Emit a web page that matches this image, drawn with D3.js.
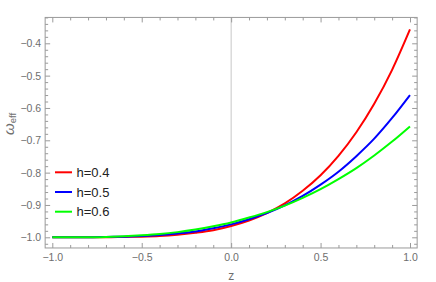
<!DOCTYPE html>
<html>
<head>
<meta charset="utf-8">
<script src="https://cdn.jsdelivr.net/npm/d3@7"></script>
<style>
  body { margin: 0; background: #fff; }
  svg { display: block; font-family: "Liberation Sans", Arial, sans-serif; }
  .axis path { display: none; }
  .axis line { stroke: #9a9a9a; stroke-width: 1; }
  .axis text { fill: #6e6e6e; font-size: 10.5px; }
</style>
</head>
<body>
<svg id="chart" width="436" height="282"></svg>
<script>
// data
const zValues = [-1.0, -0.9, -0.8, -0.7, -0.6, -0.5, -0.4, -0.3, -0.2, -0.1,
  0.0, 0.1, 0.2, 0.3, 0.4, 0.5, 0.6, 0.7, 0.8, 0.9, 1.0];
const wRed = [-1.000, -1.000, -1.000, -1.000, -0.999, -0.998, -0.996, -0.992, -0.986, -0.978,
  -0.965, -0.948, -0.925, -0.895, -0.856, -0.808, -0.748, -0.675, -0.587, -0.482, -0.357];
const wBlue = [-1.000, -1.000, -1.000, -0.999, -0.998, -0.996, -0.993, -0.988, -0.982, -0.972,
  -0.960, -0.944, -0.925, -0.901, -0.872, -0.837, -0.797, -0.749, -0.695, -0.631, -0.560];
const wGreen = [-1.000, -1.000, -1.000, -0.999, -0.997, -0.994, -0.990, -0.984, -0.976, -0.966,
  -0.954, -0.939, -0.922, -0.902, -0.878, -0.851, -0.820, -0.786, -0.747, -0.704, -0.657];
const seriesNames = ['h=0.4', 'h=0.5', 'h=0.6'];
const seriesColors = ['#ff0000', '#0000ff', '#00ff00'];
const xMajor = [-1.0, -0.5, 0.0, 0.5, 1.0];
const yMajor = [-1.0, -0.9, -0.8, -0.7, -0.6, -0.5, -0.4];

const series = [wRed, wBlue, wGreen].map((vals, i) => ({
  name: seriesNames[i],
  color: seriesColors[i],
  points: zValues.map((z, j) => ({ z, w: vals[j] }))
}));

const svg = d3.select('#chart');

const x = d3.scaleLinear().domain([-1, 1]).range([52.3, 410]);
const y = d3.scaleLinear().domain([-1, -0.4]).range([237.3, 43.3]);

const frameLeft = x(-1.04), frameRight = x(1.04);
const frameTop = y(-0.32), frameBottom = y(-1.033);

// minor tick values (majors removed)
const xMinor = d3.range(-10, 11).map((d) => d / 10).filter((d) => !xMajor.some((m) => Math.abs(m - d) < 1e-9));
const yMinor = d3.range(-51, -15).map((d) => d / 50).filter((d) => !yMajor.some((m) => Math.abs(m - d) < 1e-9));

// zero axis line
svg.append('line')
  .attr('x1', x(0)).attr('x2', x(0))
  .attr('y1', frameTop).attr('y2', frameBottom)
  .attr('stroke', '#c8c8c8').attr('stroke-width', 1);

// curves
const line = d3.line()
  .x((d) => x(d.z))
  .y((d) => y(d.w))
  .curve(d3.curveMonotoneX);

svg.append('g')
  .selectAll('path')
  .data(series)
  .join('path')
  .attr('d', (d) => line(d.points))
  .attr('fill', 'none')
  .attr('stroke', (d) => d.color)
  .attr('stroke-width', 2);

// frame
svg.append('rect')
  .attr('x', frameLeft).attr('y', frameTop)
  .attr('width', frameRight - frameLeft).attr('height', frameBottom - frameTop)
  .attr('fill', 'none')
  .attr('stroke', '#9a9a9a').attr('stroke-width', 1);

const fmt = d3.format('.1f');

// bottom
svg.append('g').attr('class', 'axis')
  .attr('transform', `translate(0,${frameBottom})`)
  .call(d3.axisBottom(x).tickValues(xMajor).tickFormat(fmt).tickSizeInner(-5).tickPadding(6));
svg.append('g').attr('class', 'axis')
  .attr('transform', `translate(0,${frameBottom})`)
  .call(d3.axisBottom(x).tickValues(xMinor).tickFormat('').tickSizeInner(-3));
// top
svg.append('g').attr('class', 'axis')
  .attr('transform', `translate(0,${frameTop})`)
  .call(d3.axisTop(x).tickValues(xMajor).tickFormat('').tickSizeInner(-5));
svg.append('g').attr('class', 'axis')
  .attr('transform', `translate(0,${frameTop})`)
  .call(d3.axisTop(x).tickValues(xMinor).tickFormat('').tickSizeInner(-3));
// left
svg.append('g').attr('class', 'axis')
  .attr('transform', `translate(${frameLeft},0)`)
  .call(d3.axisLeft(y).tickValues(yMajor).tickFormat(fmt).tickSizeInner(-5).tickPadding(4));
svg.append('g').attr('class', 'axis')
  .attr('transform', `translate(${frameLeft},0)`)
  .call(d3.axisLeft(y).tickValues(yMinor).tickFormat('').tickSizeInner(-3));
// right
svg.append('g').attr('class', 'axis')
  .attr('transform', `translate(${frameRight},0)`)
  .call(d3.axisRight(y).tickValues(yMajor).tickFormat('').tickSizeInner(-5));
svg.append('g').attr('class', 'axis')
  .attr('transform', `translate(${frameRight},0)`)
  .call(d3.axisRight(y).tickValues(yMinor).tickFormat('').tickSizeInner(-3));

// axis labels
svg.append('text')
  .attr('x', x(0)).attr('y', 280)
  .attr('text-anchor', 'middle')
  .attr('fill', '#6e6e6e')
  .attr('font-size', 12)
  .text('z');

const yl = svg.append('text')
  .attr('transform', 'translate(14,124) rotate(-90)')
  .attr('text-anchor', 'middle')
  .attr('fill', '#6e6e6e');
yl.append('tspan').attr('font-size', 15).attr('font-style', 'italic').text('ω');
yl.append('tspan').attr('font-size', 9.5).attr('dy', 1.5).text('eff');

// legend
const legend = svg.append('g')
  .selectAll('g')
  .data(series)
  .join('g')
  .attr('transform', (d, i) => `translate(55,${172.3 + i * 19.7})`);
legend.append('line')
  .attr('x1', 0).attr('x2', 17)
  .attr('stroke', (d) => d.color)
  .attr('stroke-width', 2);
legend.append('text')
  .attr('x', 21.5).attr('y', 4.5)
  .attr('font-size', 13)
  .attr('fill', '#222')
  .text((d) => d.name);
</script>
</body>
</html>
